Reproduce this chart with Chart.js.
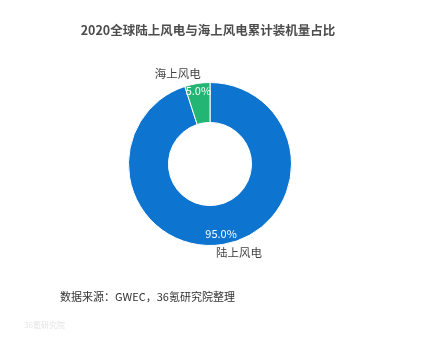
<!DOCTYPE html>
<html>
<head>
<meta charset="utf-8">
<script src="https://cdn.jsdelivr.net/npm/chart.js@4"></script>
<style>
  html, body { margin: 0; padding: 0; background: #fff; }
  #wrap { position: relative; width: 425px; height: 337px; }
</style>
</head>
<body>
<div id="wrap"><canvas id="c" width="425" height="337"></canvas></div>
<script>
// 2020 全球陆上风电与海上风电累计装机量占比
const categories = ['陆上风电', '海上风电'];
const shares = [95.0, 5.0];
const colors = ['#0d74d0', '#22b573'];
const titleText = '2020全球陆上风电与海上风电累计装机量占比';
const sourceText = '数据来源：GWEC，36氪研究院整理';

const FONT = '"Microsoft YaHei", "Noto Sans CJK SC", sans-serif';

// 标签：扇区内百分比 + 扇区外名称
const labelPlugin = {
  id: 'sliceLabels',
  afterDatasetsDraw(chart) {
    const { ctx } = chart;
    const meta = chart.getDatasetMeta(0);
    meta.data.forEach((arc, i) => {
      const { x, y, startAngle, endAngle, outerRadius } = arc.getProps(['x', 'y', 'startAngle', 'endAngle', 'outerRadius'], true);
      const mid = (startAngle + endAngle) / 2;
      const cos = Math.cos(mid), sin = Math.sin(mid);
      ctx.save();
      ctx.textBaseline = 'middle';
      ctx.textAlign = 'center';
      // 百分比
      ctx.font = '11px ' + FONT;
      ctx.fillStyle = '#fff';
      const ri = outerRadius - (i === 0 ? 11 : 7);
      ctx.fillText(shares[i].toFixed(1) + '%', x + ri * cos, y + ri * sin);
      // 名称
      ctx.font = '11.5px ' + FONT;
      ctx.fillStyle = '#444';
      const ro = outerRadius + (i === 0 ? 8 : 10);
      const lx = x + ro * cos, ly = y + ro * sin;
      ctx.textAlign = cos < 0 ? 'right' : 'left';
      ctx.fillText(categories[i], lx + (cos < 0 ? 5 : -8), ly);
      ctx.restore();
    });
  }
};

// 标题、来源、水印
const textPlugin = {
  id: 'pageText',
  afterDraw(chart) {
    const { ctx } = chart;
    ctx.save();
    ctx.textBaseline = 'middle';
    ctx.textAlign = 'center';
    ctx.font = 'bold 12.5px ' + FONT;
    ctx.fillStyle = '#4d4d4d';
    ctx.fillText(titleText, 208, 30);
    ctx.textAlign = 'left';
    ctx.font = '11px ' + FONT;
    ctx.fillStyle = '#333';
    ctx.fillText(sourceText, 60, 297);
    ctx.font = '8px ' + FONT;
    ctx.fillStyle = '#e4e4e4';
    ctx.fillText('36氪研究院', 24, 325);
    ctx.restore();
  }
};

new Chart(document.getElementById('c'), {
  type: 'doughnut',
  data: {
    labels: categories,
    datasets: [{
      data: shares,
      backgroundColor: colors,
      borderColor: '#fff',
      borderWidth: 1,
    }],
  },
  options: {
    responsive: false,
    animation: false,
    cutout: '51%',
    layout: { padding: { top: 82, bottom: 91, left: 128, right: 133 } },
    plugins: { legend: { display: false }, tooltip: { enabled: false }, title: { display: false } },
  },
  plugins: [labelPlugin, textPlugin],
});
</script>
</body>
</html>
